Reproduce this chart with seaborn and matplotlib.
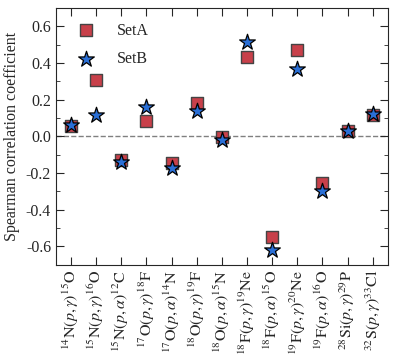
import matplotlib
matplotlib.use("Agg")
import matplotlib.pyplot as plt
import numpy as np
import pandas as pd
import seaborn as sns
from matplotlib.ticker import MultipleLocator

reactions = [r'$^{14}\mathrm{N}(p,\gamma)^{15}\mathrm{O}$',
             r'$^{15}\mathrm{N}(p,\gamma)^{16}\mathrm{O}$',
             r'$^{15}\mathrm{N}(p,\alpha)^{12}\mathrm{C}$',
             r'$^{17}\mathrm{O}(p,\gamma)^{18}\mathrm{F}$',
             r'$^{17}\mathrm{O}(p,\alpha)^{14}\mathrm{N}$',
             r'$^{18}\mathrm{O}(p,\gamma)^{19}\mathrm{F}$',
             r'$^{18}\mathrm{O}(p,\alpha)^{15}\mathrm{N}$',
             r'$^{18}\mathrm{F}(p,\gamma)^{19}\mathrm{Ne}$',
             r'$^{18}\mathrm{F}(p,\alpha)^{15}\mathrm{O}$',
             r'$^{19}\mathrm{F}(p,\gamma)^{20}\mathrm{Ne}$',
             r'$^{19}\mathrm{F}(p,\alpha)^{16}\mathrm{O}$',
             r'$^{28}\mathrm{Si}(p,\gamma)^{29}\mathrm{P}$',
             r'$^{32}\mathrm{S}(p,\gamma)^{33}\mathrm{Cl}$']
setA = [0.055, 0.31, -0.13, 0.083, -0.145, 0.18, -0.005, 0.435, -0.55, 0.474, -0.253, 0.03, 0.115]
setB = [0.06, 0.116, -0.14, 0.16, -0.17, 0.138, -0.017, 0.518, -0.62, 0.37, -0.30, 0.03, 0.125]

sns.set_style("ticks")
plt.rcParams['font.family'] = ['Liberation Serif', 'DejaVu Serif']
plt.rcParams['mathtext.fontset'] = 'stix'
plt.rcParams['axes.unicode_minus'] = False

df = pd.DataFrame({'pos': np.arange(len(reactions)), 'SetA': setA, 'SetB': setB})

fig, ax = plt.subplots(figsize=(3.97, 3.55), dpi=100)
ax.axhline(0, color='gray', ls='--', lw=1, zorder=0)
sns.scatterplot(data=df, x='pos', y='SetA', marker='s', s=65, color='#c8404a',
                edgecolor='#444444', linewidth=1, label='SetA', ax=ax, zorder=3)
sns.scatterplot(data=df, x='pos', y='SetB', marker='*', s=140, color='#2a6fd6',
                edgecolor='black', linewidth=0.9, label='SetB', ax=ax, zorder=4)

ax.set_xlim(-0.6, 12.6)
ax.set_ylim(-0.7, 0.7)
ax.set_xticks(df['pos'])
ax.set_xticklabels(reactions, rotation=90, fontsize=11.5)
ax.yaxis.set_major_locator(MultipleLocator(0.2))
ax.yaxis.set_minor_locator(MultipleLocator(0.1))
ax.tick_params(direction='in', top=True, right=True, which='both', labelsize=11.5)
ax.tick_params(which='major', length=6)
ax.tick_params(which='minor', length=3)
ax.set_xlabel('')
ax.set_ylabel('Spearman correlation coefficient', fontsize=11.5)
ax.legend(loc='upper left', frameon=False, fontsize=11.5, handletextpad=0.9,
          borderaxespad=0.5, labelspacing=0.8)

fig.subplots_adjust(left=0.141, right=0.977, top=0.977, bottom=0.254)
fig.savefig('out.png', dpi=100)
